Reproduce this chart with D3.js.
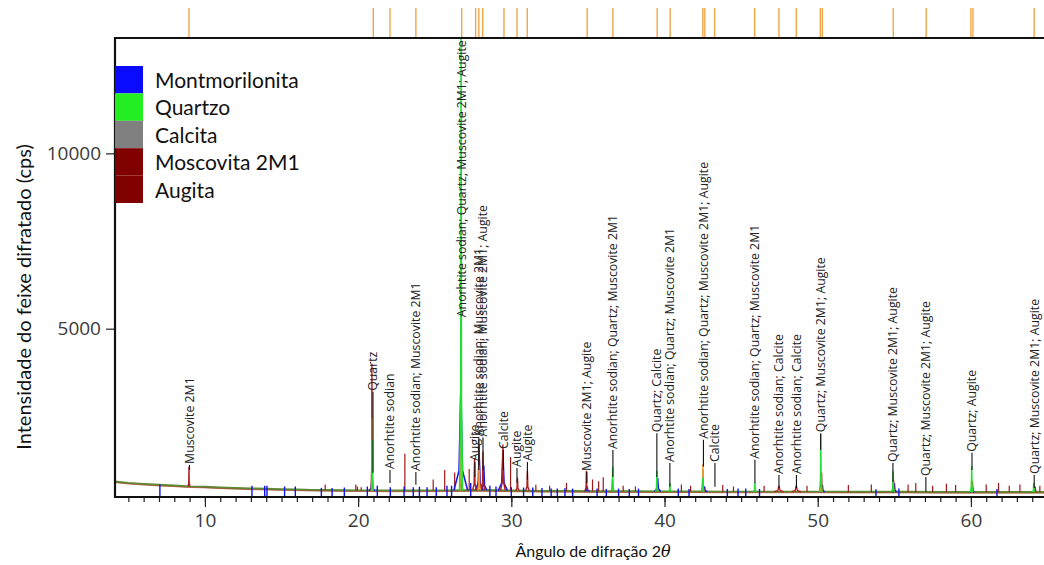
<!DOCTYPE html>
<meta charset="utf-8">
<style>
    body { margin: 0; background: #fff; }
    svg { display: block; }
    .axis text { fill: #3a3a3a; font: 19px "Open Sans", sans-serif; }
    .axis line { stroke: #222; stroke-width: 1.2; }
    .axis path.domain { display: none; }
    .peak-label { font: 12.3px "Open Sans", sans-serif; fill: #222; }
    .title { font: 20px Lato, sans-serif; fill: #111; }
    .legend text { font: 21px Lato, sans-serif; fill: #111; }
</style>
<body>
<script src="https://cdn.jsdelivr.net/npm/d3@7/dist/d3.min.js"></script>
<script>

    // ---- values (2theta in degrees, intensity in cps) ----
    var background = [[4.13, 640], [5, 600], [6, 570], [7, 545], [8, 525], [9, 500], [10, 490],
        [11, 470], [12, 455], [13, 440], [14, 430], [15, 420], [16, 410], [17, 400], [18, 395],
        [19, 390], [20, 385], [22, 380], [24, 380], [26, 385], [28, 395], [30, 380], [32, 370],
        [34, 365], [36, 360], [38, 360], [40, 355], [42, 355], [44, 350], [46, 350], [48, 350],
        [50, 350], [52, 345], [54, 345], [56, 345], [58, 340], [60, 340], [62, 340], [64.77, 340]];

    // [position, top, half width]
    var quartzPeaks = [[20.93, 1830, 0.06], [26.72, 14000, 0.1], [36.62, 1060, 0.07], [39.5, 950, 0.07],
        [40.35, 600, 0.07], [42.5, 750, 0.07], [45.9, 620, 0.07], [50.2, 2000, 0.08],
        [54.92, 950, 0.08], [60.05, 1080, 0.08], [64.1, 600, 0.08]];
    var micaPeaks = [[8.96, 1060, 0.06], [20.9, 3970, 0.05], [26.7, 1500, 0.08], [27.6, 1300, 0.12],
        [27.9, 1700, 0.12], [28.15, 1500, 0.1], [29.45, 1700, 0.15], [30.4, 750, 0.12],
        [31.05, 950, 0.12], [34.9, 950, 0.1], [36.6, 700, 0.08], [39.5, 650, 0.08],
        [42.5, 1000, 0.1], [47.47, 520, 0.3], [48.6, 520, 0.3], [50.25, 900, 0.1],
        [54.95, 700, 0.1], [60.1, 650, 0.1], [64.2, 500, 0.1]];
    var anorthitePeaks = [[20.93, 2450, 0.05], [26.72, 5200, 0.07], [27.9, 1100, 0.08],
        [42.5, 1150, 0.06], [50.2, 800, 0.06], [60.05, 700, 0.06]];
    var montmorilloniteHumps = [[20.9, 700, 0.2], [26.7, 3200, 0.45], [27.9, 1400, 0.25],
        [28.2, 1100, 0.2], [29.45, 1450, 0.3], [34.95, 500, 0.15], [39.55, 750, 0.2],
        [42.6, 500, 0.2], [50.3, 550, 0.15], [55.0, 600, 0.15], [60.1, 480, 0.15]];

    // short spikes [position, top]
    var micaSpikes = [[17.85, 560], [19.85, 560], [19.95, 500], [20.2, 480], [23.05, 1430],
        [24.9, 700], [25.65, 970], [26.3, 900], [27.25, 1000], [29.95, 1340], [31.6, 550],
        [32.5, 520], [33.6, 600], [35.3, 700], [35.7, 650], [36.0, 760], [37.3, 520], [38.1, 500],
        [41.1, 560], [41.7, 520], [43.8, 540], [44.5, 500], [46.5, 520], [49.3, 520], [52.0, 540],
        [53.5, 560], [55.9, 560], [56.4, 600], [57.5, 520], [58.4, 580], [59.0, 540], [61.0, 560],
        [61.8, 600], [62.5, 520], [63.2, 560], [64.5, 520]];
    var montmorilloniteSticks = [[7.06, 560], [13.07, 520], [13.9, 520], [14.05, 520], [15.2, 500],
        [15.9, 500], [17.6, 460], [18.3, 460], [19.1, 470], [20.6, 500], [21.25, 520], [22.1, 480],
        [23.0, 500], [23.6, 480], [24.0, 490], [24.5, 480], [25.1, 480], [25.8, 520], [26.1, 520],
        [27.35, 600], [28.6, 520], [29.0, 500], [30.0, 480], [30.8, 470], [31.4, 470], [32.0, 460],
        [32.6, 440], [33.0, 440], [33.5, 450], [34.0, 440], [35.6, 440], [36.2, 430], [37.0, 440],
        [37.7, 430], [38.3, 440], [40.9, 440], [41.6, 430], [44.1, 430], [44.8, 440], [45.3, 440],
        [46.2, 430], [53.8, 420], [55.3, 440], [61.7, 430]];

    var refTicks = [8.96, 20.99, 22.08, 23.77, 26.76, 27.67, 27.88, 28.13, 29.52, 30.37, 31.04,
        34.95, 36.63, 39.52, 40.37, 42.5, 42.63, 43.27, 45.88, 47.47, 48.6, 50.17, 50.3, 54.93,
        57.08, 60.0, 60.13, 64.13];

    // [position, stem bottom, label start, text]
    var peakLabels = [
        [8.99, 970, 1115, "Muscovite 2M1"],
        [20.97, 890, 3200, "Quartz"],
        [22.08, 600, 970, "Anorhtite sodian"],
        [23.77, 550, 915, "Anorhtite sodian; Muscovite 2M1"],
        [26.74, 5300, 5300, "Anorhtite sodian; Quartz; Muscovite 2M1; Augite"],
        [27.62, 770, 1200, "Augite"],
        [27.88, 970, 1900, "Anorhtite sodian; Muscovite 2M1"],
        [28.15, 970, 1900, "Anorhtite sodian; Muscovite 2M1; Augite"],
        [29.48, 970, 1540, "Calcite"],
        [30.37, 600, 1030, "Augite"],
        [31.05, 690, 1200, "Augite"],
        [34.93, 600, 915, "Muscovite 2M1; Augite"],
        [36.63, 770, 1540, "Anorhtite sodian; Quartz; Muscovite 2M1"],
        [39.5, 770, 2020, "Quartz; Calcite"],
        [40.35, 490, 1170, "Anorhtite sodian; Quartz; Muscovite 2M1"],
        [42.54, 1060, 1830, "Anorhtite sodian; Quartz; Muscovite 2M1; Augite"],
        [43.29, 490, 1170, "Calcite"],
        [45.9, 600, 1260, "Anorhtite sodian; Quartz; Muscovite 2M1"],
        [47.47, 460, 830, "Anorhtite sodian; Calcite"],
        [48.61, 460, 830, "Anorhtite sodian; Calcite"],
        [50.19, 1540, 2020, "Quartz; Muscovite 2M1; Augite"],
        [54.91, 630, 1170, "Quartz; Muscovite 2M1; Augite"],
        [57.06, 350, 770, "Quartz; Muscovite 2M1; Augite"],
        [60.07, 970, 1460, "Quartz; Augite"],
        [64.13, 460, 830, "Quartz; Muscovite 2M1; Augite"]
    ];

    var legendNames = ["Montmorilonita", "Quartzo", "Calcita", "Moscovita 2M1", "Augita"];
    var legendColors = ["#0a0aff", "#22ee22", "#808080", "#800000", "#800000"];

    var xTicks = [10, 20, 30, 40, 50, 60];
    var yTicks = [5000, 10000];

    // ---- layout ----
    var width = 1044, height = 565;
    var plot = {left: 115, top: 38, right: 1044, bottom: 497};

    var x = d3.scaleLinear().domain([4.13, 64.77]).range([plot.left, plot.right]);
    var y = d3.scaleLinear().domain([200, 13290]).range([plot.bottom, plot.top]);

    // baseline under each peak
    var bgAt = d3.scaleLinear().domain(background.map(d => d[0])).range(background.map(d => d[1]));

    var svg = d3.select("body").append("svg")
        .attr("width", width)
        .attr("height", height);

    svg.append("defs").append("clipPath")
        .attr("id", "plotClip")
        .append("rect")
        .attr("x", plot.left).attr("y", plot.top)
        .attr("width", plot.right - plot.left).attr("height", plot.bottom - plot.top);

    var line = d3.line().x(d => x(d[0])).y(d => y(d[1]));

    function peakPath(d) {
        var b = bgAt(d[0]);
        return line([[d[0] - d[2], b], [d[0] - d[2] * 0.25, b + (d[1] - b) * 0.2], [d[0], d[1]],
            [d[0] + d[2] * 0.25, b + (d[1] - b) * 0.2], [d[0] + d[2], b]]);
    }

    var traces = svg.append("g").attr("clip-path", "url(#plotClip)");

    // measured background
    traces.append("path")
        .attr("d", line(background))
        .attr("fill", "none")
        .attr("stroke", "#5d8a34")
        .attr("stroke-width", 2.2);
    traces.append("path")
        .attr("d", line(background))
        .attr("fill", "none")
        .attr("stroke", "#a8432a")
        .attr("stroke-width", 1)
        .attr("transform", "translate(0,1)")
        .attr("opacity", 0.7);

    traces.selectAll(".mica-spike")
        .data(micaSpikes)
        .enter().append("line")
        .attr("x1", d => x(d[0])).attr("x2", d => x(d[0]))
        .attr("y1", d => y(bgAt(d[0]))).attr("y2", d => y(d[1]))
        .attr("stroke", "#a01818").attr("stroke-width", 1.2);

    function drawPeaks(data, color, w) {
        traces.append("g").selectAll("path")
            .data(data)
            .enter().append("path")
            .attr("d", peakPath)
            .attr("fill", "none")
            .attr("stroke", color)
            .attr("stroke-width", w);
    }

    drawPeaks(montmorilloniteHumps, "#1a1aee", 1.6);
    drawPeaks(micaPeaks, "#b02020", 1.4);
    drawPeaks(anorthitePeaks, "#f0a030", 1.4);
    drawPeaks(quartzPeaks, "#22dd33", 1.5);

    traces.selectAll(".mont-stick")
        .data(montmorilloniteSticks)
        .enter().append("line")
        .attr("x1", d => x(d[0])).attr("x2", d => x(d[0]))
        .attr("y1", y(200)).attr("y2", d => y(d[1]))
        .attr("stroke", "#1010ee").attr("stroke-width", 1.4);

    // reference pattern ticks above the frame
    svg.append("g").selectAll("line")
        .data(refTicks)
        .enter().append("line")
        .attr("x1", d => x(d)).attr("x2", d => x(d))
        .attr("y1", 8).attr("y2", plot.top)
        .attr("stroke", "#f2a64a").attr("stroke-width", 1.4);

    // peak labels with stems
    var labels = svg.append("g").attr("clip-path", "url(#plotClip)");
    labels.selectAll("line")
        .data(peakLabels)
        .enter().append("line")
        .attr("x1", d => x(d[0])).attr("x2", d => x(d[0]))
        .attr("y1", d => y(d[1])).attr("y2", d => y(d[2]))
        .attr("stroke", "#111").attr("stroke-width", 1.1);
    labels.selectAll("text")
        .data(peakLabels)
        .enter().append("text")
        .attr("class", "peak-label")
        .attr("transform", d => "translate(" + x(d[0]) + "," + (y(d[2]) - 1) + ") rotate(-90)")
        .attr("dy", "0.35em")
        .text(d => d[3]);

    // axes
    svg.append("g")
        .attr("class", "axis")
        .attr("transform", "translate(0," + plot.bottom + ")")
        .call(d3.axisBottom(x).tickValues(d3.range(5, 65)).tickSize(5).tickFormat(""));
    svg.append("g")
        .attr("class", "axis")
        .attr("transform", "translate(0," + plot.bottom + ")")
        .call(d3.axisBottom(x).tickValues(xTicks).tickSize(10).tickPadding(7).tickFormat(d3.format("d")));
    svg.append("g")
        .attr("class", "axis")
        .attr("transform", "translate(" + plot.left + ",0)")
        .call(d3.axisLeft(y).tickValues(yTicks).tickSize(9).tickPadding(5).tickFormat(d3.format("d")));

    // frame
    svg.append("path")
        .attr("d", "M" + plot.right + "," + plot.top + "H" + plot.left + "V" + plot.bottom + "H" + plot.right)
        .attr("fill", "none")
        .attr("stroke", "#111")
        .attr("stroke-width", 2.2);

    // titles
    svg.append("text")
        .attr("class", "title")
        .attr("transform", "translate(31,297) rotate(-90)")
        .attr("text-anchor", "middle")
        .text("Intensidade do feixe difratado (cps)");

    var xt = svg.append("text")
        .attr("class", "title")
        .style("font-size", "16px")
        .attr("x", 593).attr("y", 557)
        .attr("text-anchor", "middle");
    xt.append("tspan").text("Ângulo de difração 2");
    xt.append("tspan").attr("font-style", "italic").attr("font-family", "'DejaVu Serif', serif").text("θ");

    // legend
    var legend = svg.append("g").attr("class", "legend");
    var item = legend.selectAll("g")
        .data(legendNames)
        .enter().append("g")
        .attr("transform", (d, i) => "translate(115," + (66 + i * 27.4) + ")");
    item.append("rect")
        .attr("width", 28).attr("height", 27.4)
        .attr("fill", (d, i) => legendColors[i]);
    item.append("text")
        .attr("x", 40).attr("y", 22)
        .text(d => d);

</script>
